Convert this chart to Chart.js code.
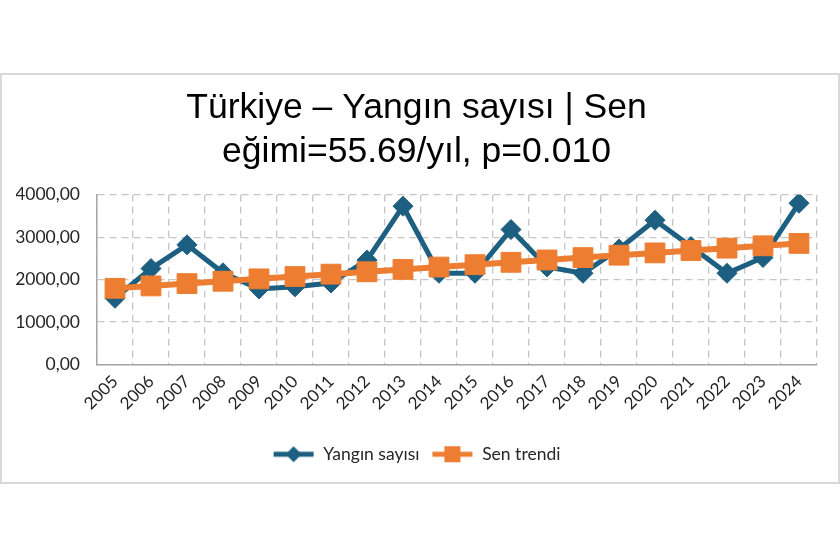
<!DOCTYPE html>
<html>
<head>
<meta charset="utf-8">
<script src="https://cdn.jsdelivr.net/npm/chart.js@4.4.0/dist/chart.umd.min.js"></script>
<style>
  html, body { margin: 0; padding: 0; background: #ffffff; }
  #c { display: block; }
</style>
</head>
<body>
<canvas id="c" width="840" height="560"></canvas>
<script>
// ---- data ----
const years = ['2005','2006','2007','2008','2009','2010','2011','2012','2013','2014',
               '2015','2016','2017','2018','2019','2020','2021','2022','2023','2024'];
const fireCounts = [1560, 2260, 2820, 2160, 1780, 1830, 1920, 2460, 3730, 2150,
                    2150, 3180, 2300, 2150, 2720, 3400, 2780, 2150, 2520, 3800];
const senTrend = [1795, 1851, 1906, 1962, 2018, 2073, 2129, 2185, 2240, 2296,
                  2352, 2408, 2463, 2519, 2575, 2630, 2686, 2742, 2797, 2853];
const titleLines = ['Türkiye – Yangın sayısı | Sen', 'eğimi=55.69/yıl, p=0.010'];
const seriesNames = ['Yangın sayısı', 'Sen trendi'];

const BLUE = '#1d5f80';
const ORANGE = '#ed7d31';

function legendIcon(color, shape) {
  const cv = document.createElement('canvas');
  cv.width = 42; cv.height = 20;
  const g = cv.getContext('2d');
  g.strokeStyle = color; g.fillStyle = color;
  g.lineWidth = 5;
  g.beginPath(); g.moveTo(1, 10); g.lineTo(41, 10); g.stroke();
  g.beginPath();
  if (shape === 'diamond') {
    g.moveTo(21, 2); g.lineTo(29, 10); g.lineTo(21, 18); g.lineTo(13, 10); g.closePath();
  } else {
    g.rect(13, 2, 16, 16);
  }
  g.fill();
  return cv;
}
const icons = [legendIcon(BLUE, 'diamond'), legendIcon(ORANGE, 'square')];

const frame = {
  id: 'frame',
  beforeDraw(chart) {
    const ctx = chart.ctx;
    ctx.save();
    ctx.fillStyle = '#ffffff';
    ctx.fillRect(0, 0, chart.width, chart.height);
    ctx.strokeStyle = '#d9d9d9';
    ctx.lineWidth = 2;
    ctx.strokeRect(1, 74, 838, 409);
    ctx.restore();
  }
};

new Chart(document.getElementById('c'), {
  type: 'line',
  data: {
    labels: years,
    datasets: [
      {
        label: seriesNames[0],
        data: fireCounts,
        borderColor: BLUE,
        backgroundColor: BLUE,
        borderWidth: 5,
        pointStyle: 'rectRot',
        pointRadius: 10,
        pointBorderWidth: 1,
        pointBackgroundColor: BLUE,
        pointBorderColor: BLUE,
        tension: 0,
        order: 2
      },
      {
        label: seriesNames[1],
        data: senTrend,
        borderColor: ORANGE,
        backgroundColor: ORANGE,
        borderWidth: 6,
        pointStyle: 'rect',
        pointRadius: 14,
        pointBorderWidth: 1,
        pointBackgroundColor: ORANGE,
        pointBorderColor: ORANGE,
        tension: 0,
        order: 1
      }
    ]
  },
  options: {
    responsive: false,
    animation: false,
    layout: { padding: { top: 86, left: 16, right: 23, bottom: 87 } },
    plugins: {
      title: {
        display: true,
        text: titleLines,
        color: '#000000',
        font: { family: "'Liberation Sans', Arial, sans-serif", size: 35.5, weight: 'normal', lineHeight: 1.25 },
        padding: { top: 0, bottom: 20 }
      },
      legend: {
        position: 'bottom',
        labels: {
          usePointStyle: true,
          pointStyleWidth: 42,
          padding: 12,
          color: '#262626',
          font: { family: 'Lato', size: 17.5 },
          sort: (a, b) => a.datasetIndex - b.datasetIndex,
          generateLabels: (chart) => {
            const items = Chart.defaults.plugins.legend.labels.generateLabels(chart);
            items.forEach(it => { it.pointStyle = icons[it.datasetIndex]; });
            return items;
          }
        }
      },
      tooltip: { enabled: false }
    },
    scales: {
      x: {
        offset: true,
        grid: { offset: true, color: '#c6c6c6', lineWidth: 1.3, drawTicks: false },
        border: { display: true, color: '#a6a6a6', width: 1.5, dash: [7, 5] },
        ticks: {
          minRotation: 45, maxRotation: 45, autoSkip: false,
          color: '#262626', padding: 7,
          font: { family: 'Lato', size: 17 }
        },
        afterFit: (s) => { s.height = 69; }
      },
      y: {
        min: 0, max: 4000,
        grid: { color: '#c6c6c6', lineWidth: 1.3, drawTicks: false },
        border: { display: true, color: '#a6a6a6', width: 1.5, dash: [7, 5] },
        ticks: {
          stepSize: 1000, padding: 17, color: '#262626',
          font: { family: 'Lato', size: 17.5 },
          callback: (v) => v.toFixed(2).replace('.', ',')
        },
        afterFit: (s) => { s.width = 81; }
      }
    }
  },
  plugins: [frame]
});
</script>
</body>
</html>
